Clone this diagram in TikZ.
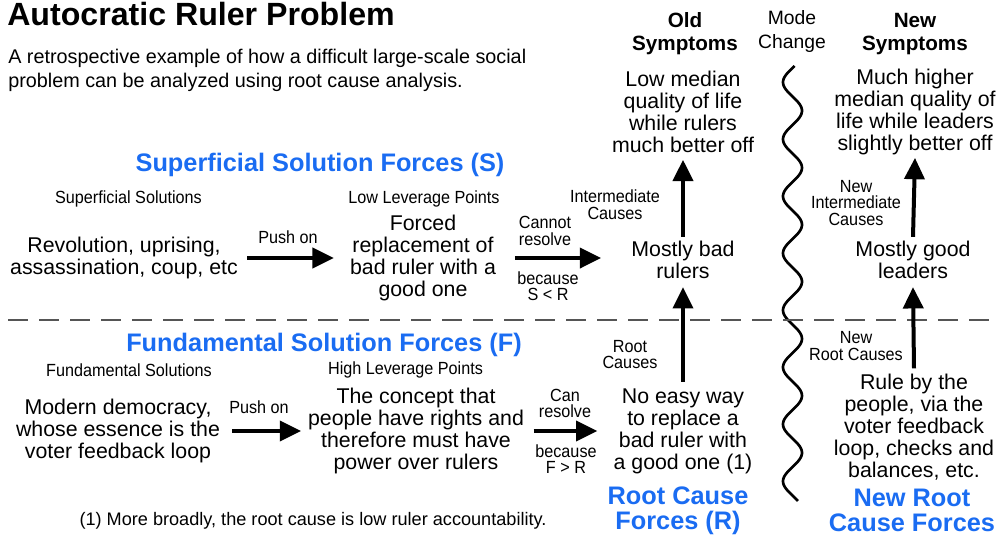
\documentclass[tikz,border=0pt]{standalone}
\usepackage{fontspec}
\setmainfont{Liberation Sans}
\newfontfamily\narrowsans[FakeStretch=0.92]{Liberation Sans}
\usetikzlibrary{arrows.meta}
\definecolor{forceblue}{RGB}{26,108,242}
\definecolor{dashgray}{RGB}{85,85,85}

\begin{document}
\begin{tikzpicture}[x=0.75pt,y=-0.75pt,
  body/.style={font=\fontsize{16}{16.5}\selectfont, align=center, inner sep=0pt},
  tag/.style={font=\narrowsans\fontsize{13.2}{12.4}\selectfont, align=center, inner sep=0pt},
  forces/.style={font=\bfseries\fontsize{19}{18.75}\selectfont, text=forceblue, align=center, inner sep=0pt},
  colhead/.style={font=\bfseries\fontsize{15.5}{17.25}\selectfont, align=center, inner sep=0pt},
  bigarrow/.style={line width=3pt, -{Triangle[length=16pt,width=15pt]}},
]
\useasboundingbox (0,0) rectangle (997,536);

% title and subtitle
\node[anchor=base west, inner sep=0pt, font=\bfseries\fontsize{24.1}{26}\selectfont] (title) at (7,25) {Autocratic Ruler Problem};
\node[anchor=west, inner sep=0pt, align=left, font=\fontsize{14.85}{18}\selectfont] (subtitle) at (8,70.5)
  {A retrospective example of how a difficult large-scale social\\problem can be analyzed using root cause analysis.};

% column headings
\node[colhead] (oldsym) at (685,34) {Old\\Symptoms};
\node[font=\fontsize{14.5}{18}\selectfont, align=center, inner sep=0pt] (mode) at (792,31.5) {Mode\\Change};
\node[colhead] (newsym) at (915,34) {New\\Symptoms};

% symptoms
\node[body] (lowmed) at (683,112) {Low median\\quality of life\\while rulers\\much better off};
\node[body] (highmed) at (915,112) {Much higher\\median quality of\\life while leaders\\slightly better off};

% mode change wave (period 57, amplitude 9.5)
\draw[line width=2pt] plot[variable=\t, domain=66:501, samples=240, smooth]
  ({792.5-9.5*sin((\t-68)*6.31579)}, \t);

% superficial half
\node[forces] (sforces) at (320,165) {Superficial Solution Forces (S)};
\node[tag] (supsol) at (128.5,199) {Superficial Solutions};
\node[tag] (lowlev) at (424,199) {Low Leverage Points};
\node[tag] (intcause) at (615,204.5) {Intermediate\\Causes};
\node[tag] (newint) at (856,203) {New\\Intermediate\\Causes};

\node[body] (rev) at (124,258) {Revolution, uprising,\\assassination, coup, etc};
\node[tag] (push1) at (288,237) {Push on};
\node[body] (forced) at (423,258) {Forced\\replacement of\\bad ruler with a\\good one};
\node[tag] (cannot) at (545,231) {Cannot\\resolve};
\node[tag] (becs) at (548,286) {because\\S < R};
\node[body] (bad) at (683,260) {Mostly bad\\rulers};
\node[body] (good) at (913,260) {Mostly good\\leaders};

% divider
\draw[dashgray, line width=1.5pt, dash pattern=on 15pt off 8.25pt] (8,320) -- (997,320);

% fundamental half
\node[forces] (fforces) at (324,345) {Fundamental Solution Forces (F)};
\node[tag] (fundsol) at (129,370) {Fundamental Solutions};
\node[tag] (highlev) at (405.5,370) {High Leverage Points};
\node[tag] (rootc) at (630,354.5) {Root\\Causes};
\node[tag] (newroot) at (856,346) {New\\Root Causes};

\node[body] (modern) at (118,431) {Modern democracy,\\whose essence is the\\voter feedback loop};
\node[tag] (push2) at (259,407) {Push on};
\node[body] (concept) at (416,431) {The concept that\\people have rights and\\therefore must have\\power over rulers};
\node[tag] (can) at (565,403.5) {Can\\resolve};
\node[tag] (becf) at (566,459) {because\\F > R};
\node[body] (noeasy) at (683,431) {No easy way\\to replace a\\bad ruler with\\a good one (1)};
\node[body] (rule) at (914,427) {Rule by the\\people, via the\\voter feedback\\loop, checks and\\balances, etc.};

\node[forces] (rforces) at (678,510.5) {Root Cause\\Forces (R)};
\node[forces] (nrforces) at (912,510.5) {New Root\\Cause Forces};
\node[inner sep=0pt, font=\fontsize{13.6}{14}\selectfont] (note) at (313,521) {(1) More broadly, the root cause is low ruler accountability.};

% connectors
\draw[bigarrow, shorten <=6.75pt, shorten >=12pt] (rev.east) -- (rev.east -| forced.west);
\draw[bigarrow, shorten <=14pt, shorten >=22.5pt] (forced.east) -- (forced.east -| bad.west);
\draw[bigarrow] ([yshift=3pt]bad.north) -- ([yshift=-5pt]lowmed.south);
\draw[bigarrow] ([yshift=5pt]noeasy.north) -- ([yshift=-6pt]bad.south);
\draw[bigarrow] ([yshift=3pt]good.north) -- ([yshift=-2pt]highmed.south);
\draw[bigarrow] ([yshift=4pt]rule.north) -- ([yshift=-6pt]good.south);
\draw[bigarrow, shorten <=9pt, shorten >=5pt] (modern.east) -- (modern.east -| concept.west);
\draw[bigarrow, shorten <=7pt, shorten >=12pt] (concept.east) -- (concept.east -| noeasy.west);
\end{tikzpicture}
\end{document}
